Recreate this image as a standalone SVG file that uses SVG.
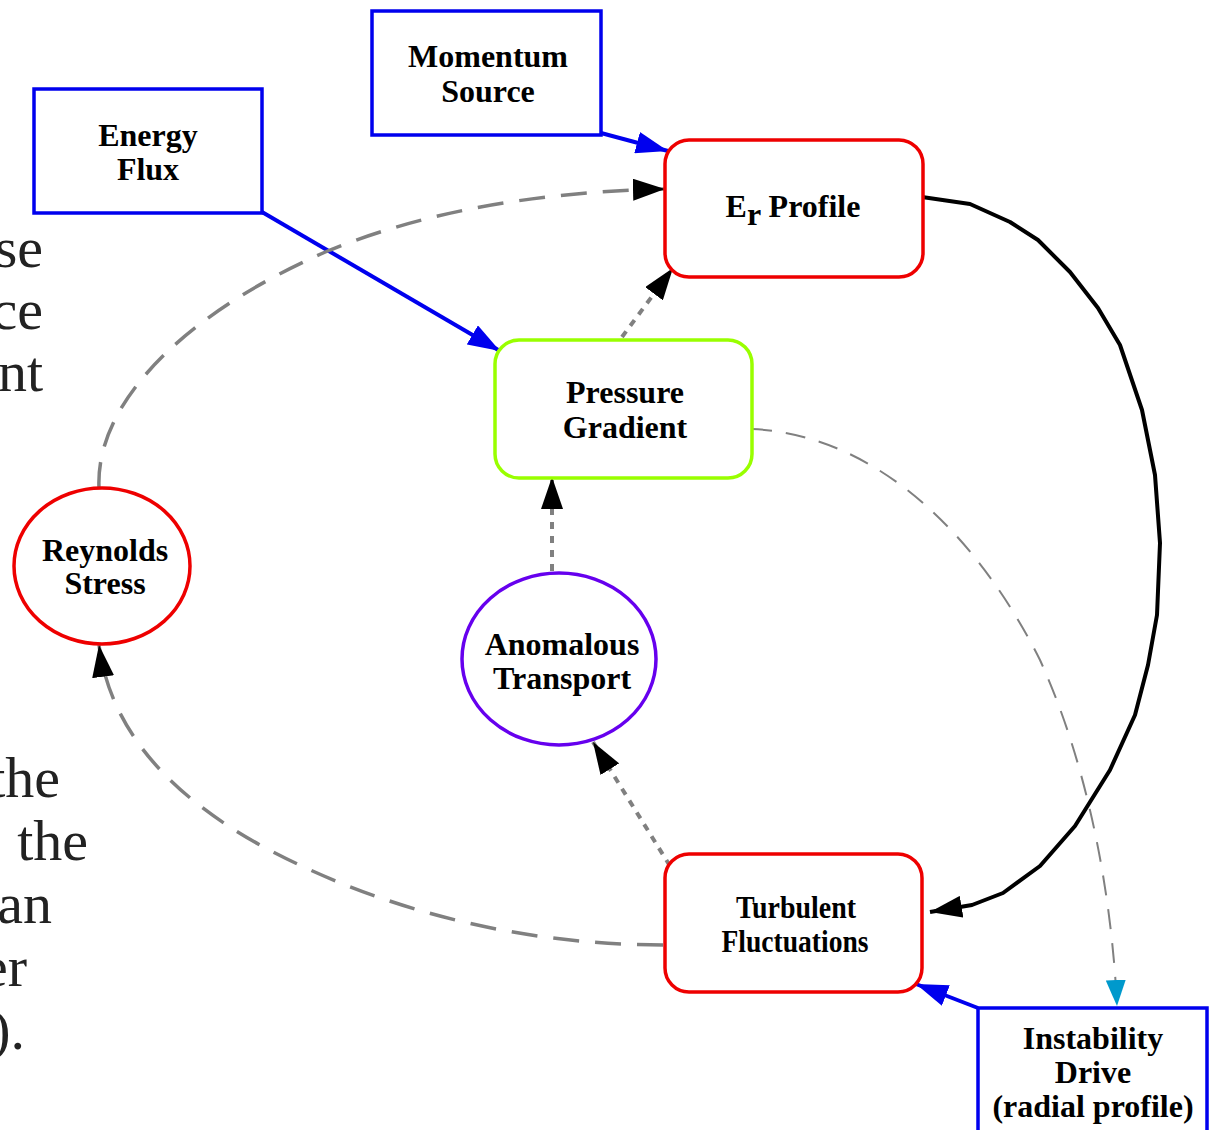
<svg xmlns="http://www.w3.org/2000/svg" width="1215" height="1130" viewBox="0 0 1215 1130">
<defs>
<style>
.lbl{font-family:'Liberation Serif','Times New Roman',serif;font-weight:bold;font-size:32px;fill:#000;text-anchor:middle}
.side{font-family:'Liberation Serif','Times New Roman',serif;font-size:58px;fill:#222;text-anchor:end}
.box{fill:#fff;stroke:#0000ee;stroke-width:3.5}
.rnd{fill:#fff;stroke-width:3.5}
.blue{fill:none;stroke:#0000ee;stroke-width:4}
.dot{fill:none;stroke:#808080;stroke-width:4;stroke-dasharray:7 7}
.dash{fill:none;stroke:#808080;stroke-width:3.5;stroke-dasharray:26 16}
.thin{fill:none;stroke:#808080;stroke-width:2;stroke-dasharray:20 14}
.blk{fill:none;stroke:#000;stroke-width:4;stroke-linejoin:round}
</style>
<marker id="ab" markerUnits="userSpaceOnUse" markerWidth="32" markerHeight="22" refX="32" refY="11" orient="auto" viewBox="0 0 32 22"><path d="M0,0 L32,11 L0,22 z" fill="#000"/></marker>
<marker id="au" markerUnits="userSpaceOnUse" markerWidth="32" markerHeight="22" refX="32" refY="11" orient="auto" viewBox="0 0 32 22"><path d="M0,0 L32,11 L0,22 z" fill="#0000ee"/></marker>
<marker id="ac" markerUnits="userSpaceOnUse" markerWidth="26" markerHeight="20" refX="26" refY="10" orient="auto" viewBox="0 0 26 20"><path d="M0,0 L26,10 L0,20 z" fill="#0099cc"/></marker>
</defs>
<rect width="1215" height="1130" fill="#fff"/>

<g id="side-text" font-family="Liberation Serif, serif">
<text class="side" x="43" y="267">se</text>
<text class="side" x="43" y="329">ce</text>
<text class="side" x="43" y="391">nt</text>
<text class="side" x="60" y="797">the</text>
<text class="side" x="88" y="860">the</text>
<text class="side" x="52" y="923">an</text>
<text class="side" x="27" y="986">er</text>
<text class="side" x="25" y="1049">).</text>
</g>

<g id="connectors">
<path class="blue" d="M601,133 L668,151" marker-end="url(#au)"/>
<path class="blue" d="M262,212 L500,351" marker-end="url(#au)"/>
<path class="blue" d="M978,1008 L916,984" marker-end="url(#au)"/>
<path class="blk" d="M922,197 L970,204 L1010,222 L1038,240 L1070,272 L1098,308 L1120,345 L1142,410 L1155,475 L1160,543 L1157,615 L1148,665 L1135,715 L1110,770 L1075,826 L1040,866 L1003,893 L972,905 L930,912" marker-end="url(#ab)"/>
<path class="dot" d="M622,337 L673,268" marker-end="url(#ab)"/>
<path class="dot" d="M552,571 L552,477" marker-end="url(#ab)"/>
<path class="dot" d="M670,866 L593,742" marker-end="url(#ab)"/>
<path class="dash" d="M99,488 C95,400 190,310 330,250 C430,210 540,192 665,189" marker-end="url(#ab)"/>
<path class="dash" d="M663,945 C520,945 380,910 260,845 C170,795 110,730 99,645" marker-end="url(#ab)"/>
<path class="thin" d="M752,429 C880,435 980,540 1040,660 C1090,770 1112,900 1117,1006" marker-end="url(#ac)"/>
</g>

<g id="momentum-source">
<rect class="box" x="372" y="11" width="229" height="124"/>
<text class="lbl" x="488" y="67">Momentum</text>
<text class="lbl" x="488" y="102">Source</text>
</g>

<g id="energy-flux">
<rect class="box" x="34" y="89" width="228" height="124"/>
<text class="lbl" x="148" y="146">Energy</text>
<text class="lbl" x="148" y="180">Flux</text>
</g>

<g id="er-profile">
<rect class="rnd" x="665" y="140" width="258" height="137" rx="24" stroke="#ee0000"/>
<text class="lbl" x="793" y="217">E<tspan dy="8">r</tspan><tspan dy="-8"> Profile</tspan></text>
</g>

<g id="pressure-gradient">
<rect class="rnd" x="495" y="340" width="257" height="138" rx="24" stroke="#99ff00"/>
<text class="lbl" x="625" y="403">Pressure</text>
<text class="lbl" x="625" y="438">Gradient</text>
</g>

<g id="reynolds-stress">
<ellipse class="rnd" cx="102" cy="566" rx="88" ry="78" stroke="#ee0000"/>
<text class="lbl" x="105" y="561">Reynolds</text>
<text class="lbl" x="105" y="594">Stress</text>
</g>

<g id="anomalous-transport">
<ellipse class="rnd" cx="559" cy="659" rx="97" ry="86" stroke="#6600ee"/>
<text class="lbl" x="562" y="655">Anomalous</text>
<text class="lbl" x="562" y="689">Transport</text>
</g>

<g id="turbulent-fluctuations">
<rect class="rnd" x="665" y="854" width="257" height="138" rx="24" stroke="#ee0000"/>
<text class="lbl" x="796" y="918" textLength="120" lengthAdjust="spacingAndGlyphs">Turbulent</text>
<text class="lbl" x="795" y="952" textLength="147" lengthAdjust="spacingAndGlyphs">Fluctuations</text>
</g>

<g id="instability-drive">
<rect class="box" x="978" y="1008" width="229" height="135"/>
<text class="lbl" x="1093" y="1049">Instability</text>
<text class="lbl" x="1093" y="1083">Drive</text>
<text class="lbl" x="1093" y="1117">(radial profile)</text>
</g>
</svg>
